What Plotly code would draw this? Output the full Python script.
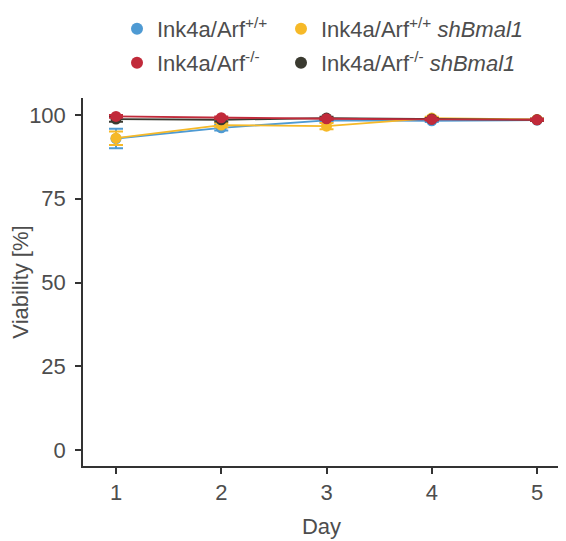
import plotly.graph_objects as go

days = [1, 2, 3, 4, 5]
names = ["Ink4a/Arf<sup>+/+</sup>", "Ink4a/Arf<sup>+/+</sup> <i>shBmal1</i>",
         "Ink4a/Arf<sup>-/-</sup>", "Ink4a/Arf<sup>-/-</sup> <i>shBmal1</i>"]
colors = ["#4E9AD3", "#F6B928", "#C12A3A", "#3A3A30"]
wt = [93.0, 96.2, 98.4, 98.3, 98.5]
wt_err = [2.9, 0.8, 0.4, 0.4, 0.3]
wt_sh = [93.1, 97.0, 96.7, 99.1, 98.7]
wt_sh_err = [2.0, 0.6, 0.9, 0.4, 0.3]
ko = [99.6, 99.2, 98.9, 98.7, 98.6]
ko_err = [0.4, 0.4, 0.3, 0.3, 0.3]
ko_sh = [98.8, 98.6, 99.1, 98.8, 98.6]
ko_sh_err = [0.8, 0.5, 0.4, 0.3, 0.3]

series = [wt, wt_sh, ko, ko_sh]
errs = [wt_err, wt_sh_err, ko_err, ko_sh_err]
draw_order = [0, 1, 3, 2]

FONT = "Liberation Sans, Arial"
W, H = 558, 533
fig = go.Figure()
for i in draw_order:
    fig.add_trace(go.Scatter(
        x=days, y=series[i], mode="lines+markers",
        line=dict(color=colors[i], width=1.8),
        marker=dict(color=colors[i], size=11),
        error_y=dict(type="data", array=errs[i], color=colors[i], thickness=2, width=7),
        showlegend=False))

legend_ids = ["legend", "legend2", "legend3", "legend4"]
for i in range(4):
    fig.add_trace(go.Scatter(
        x=[None], y=[None], mode="markers", name=names[i],
        marker=dict(color=colors[i], size=12),
        legend=legend_ids[i], showlegend=True))

axis_common = dict(showline=True, linecolor="#333333", linewidth=1.5, ticks="outside",
                   ticklen=6, tickwidth=1.5, tickcolor="#333333", showgrid=False, zeroline=False,
                   automargin=False,
                   tickfont=dict(size=22, color="#4D4D4D", family=FONT),
                   title_font=dict(size=22, color="#4D4D4D", family=FONT))

leg_common = dict(orientation="h", xanchor="left", yanchor="top",
                  xref="container", yref="container", itemwidth=30,
                  font=dict(size=22, color="#4D4D4D", family=FONT), bgcolor="rgba(0,0,0,0)")

col_x = [109, 273]
row_top = [0, 34]

fig.update_layout(
    width=W, height=H,
    margin=dict(l=75, r=6, t=90, b=75, autoexpand=False),
    plot_bgcolor="white", paper_bgcolor="white",
    font=dict(family=FONT, color="#4D4D4D"),
    xaxis=dict(range=[0.6865, 5.2185], tickvals=days, title=dict(text="Day", standoff=14), **axis_common),
    yaxis=dict(range=[-4.8, 105.1], tickvals=[0, 25, 50, 75, 100], ticklabelstandoff=5,
               title=dict(text="Viability [%]", standoff=0), **axis_common),
    legend=dict(x=col_x[0] / W, y=1 - row_top[0] / H, **leg_common),
    legend2=dict(x=col_x[1] / W, y=1 - row_top[0] / H, **leg_common),
    legend3=dict(x=col_x[0] / W, y=1 - row_top[1] / H, **leg_common),
    legend4=dict(x=col_x[1] / W, y=1 - row_top[1] / H, **leg_common),
)

fig.write_html("out.html")
